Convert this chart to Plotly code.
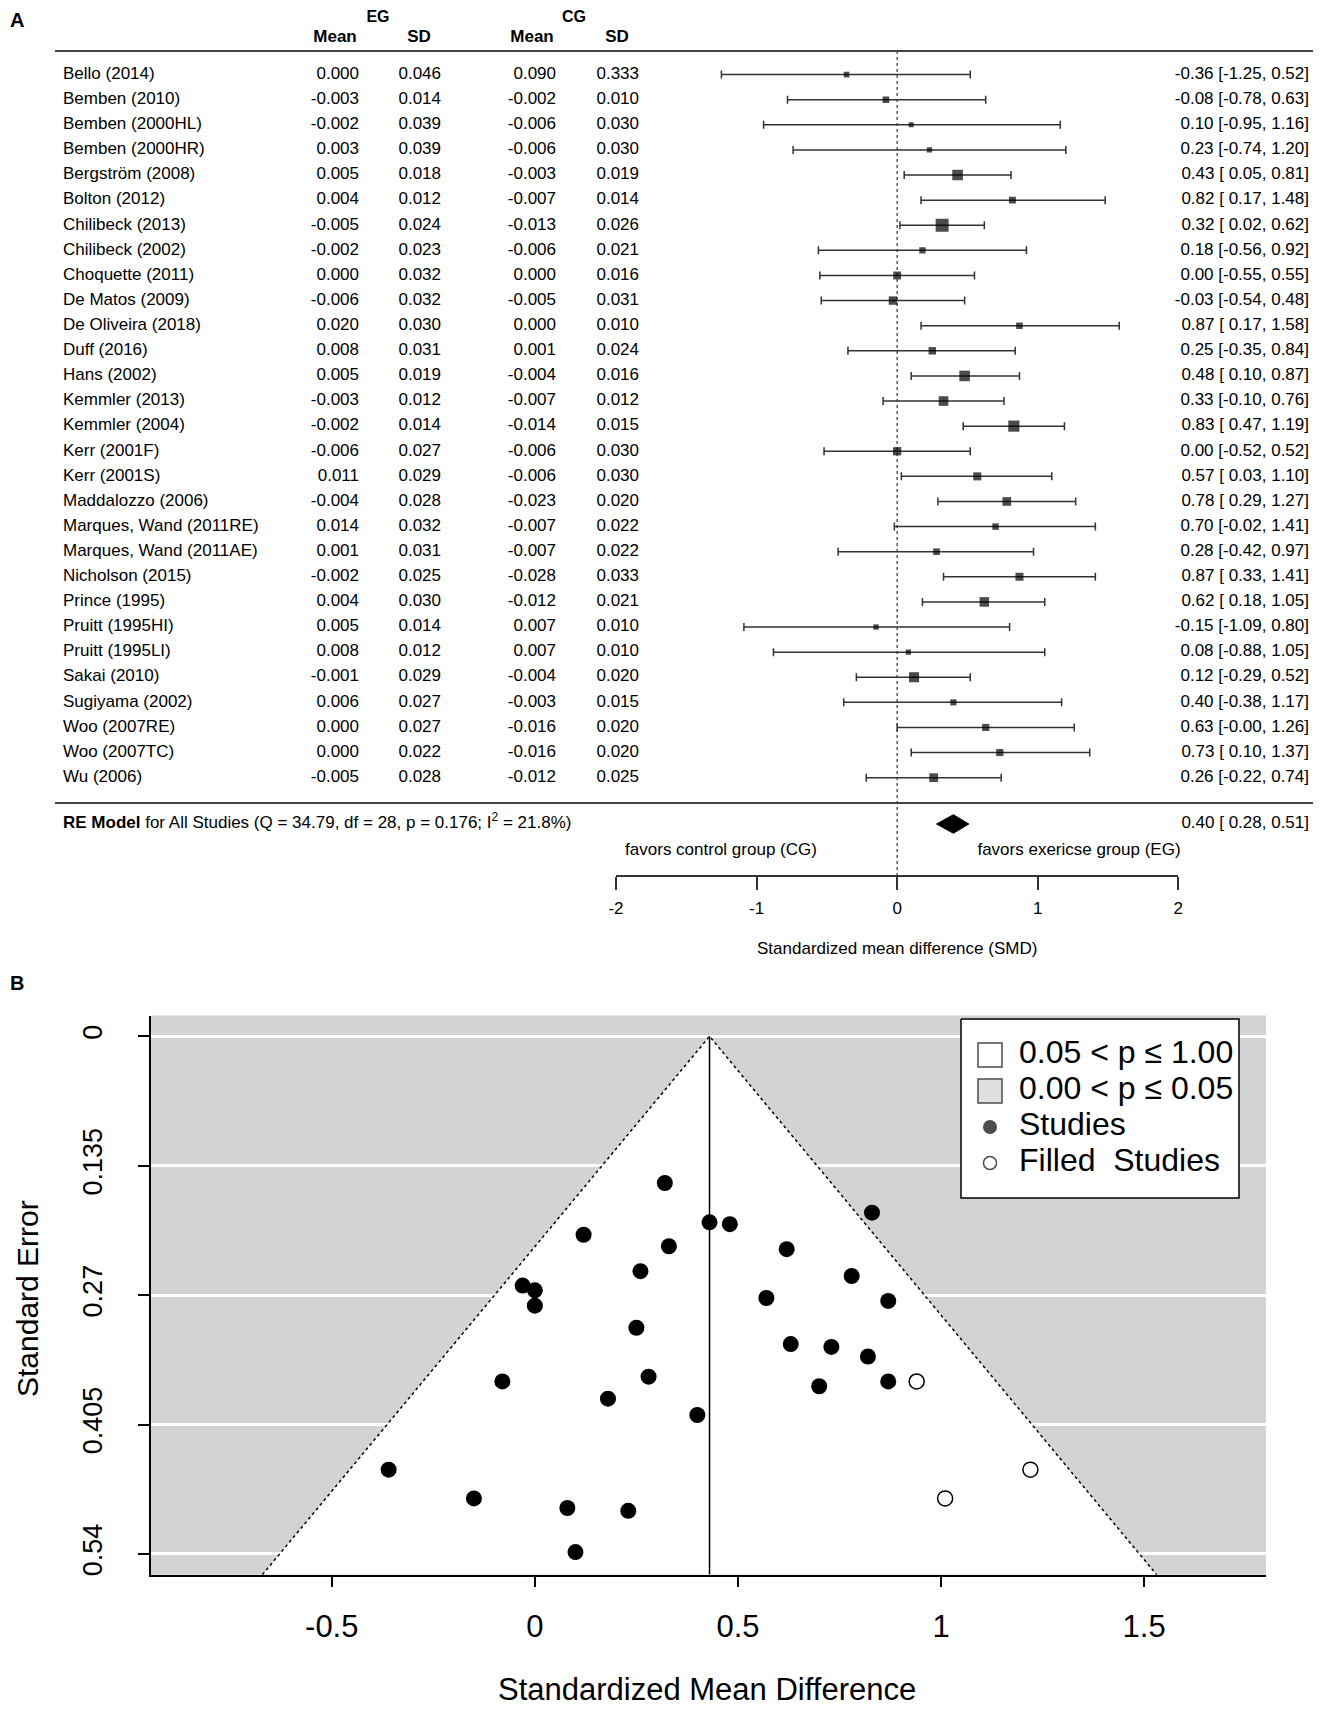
import plotly.graph_objects as go

# ---------------- data ----------------
studies = ["Bello (2014)", "Bemben (2010)", "Bemben (2000HL)", "Bemben (2000HR)", "Bergström (2008)",
           "Bolton (2012)", "Chilibeck (2013)", "Chilibeck (2002)", "Choquette (2011)", "De Matos (2009)",
           "De Oliveira (2018)", "Duff (2016)", "Hans (2002)", "Kemmler (2013)", "Kemmler (2004)",
           "Kerr (2001F)", "Kerr (2001S)", "Maddalozzo (2006)", "Marques, Wand (2011RE)",
           "Marques, Wand (2011AE)", "Nicholson (2015)", "Prince (1995)", "Pruitt (1995HI)",
           "Pruitt (1995LI)", "Sakai (2010)", "Sugiyama (2002)", "Woo (2007RE)", "Woo (2007TC)", "Wu (2006)"]
eg_mean = [0.000, -0.003, -0.002, 0.003, 0.005, 0.004, -0.005, -0.002, 0.000, -0.006, 0.020, 0.008, 0.005,
           -0.003, -0.002, -0.006, 0.011, -0.004, 0.014, 0.001, -0.002, 0.004, 0.005, 0.008, -0.001, 0.006,
           0.000, 0.000, -0.005]
eg_sd = [0.046, 0.014, 0.039, 0.039, 0.018, 0.012, 0.024, 0.023, 0.032, 0.032, 0.030, 0.031, 0.019, 0.012,
         0.014, 0.027, 0.029, 0.028, 0.032, 0.031, 0.025, 0.030, 0.014, 0.012, 0.029, 0.027, 0.027, 0.022, 0.028]
cg_mean = [0.090, -0.002, -0.006, -0.006, -0.003, -0.007, -0.013, -0.006, 0.000, -0.005, 0.000, 0.001, -0.004,
           -0.007, -0.014, -0.006, -0.006, -0.023, -0.007, -0.007, -0.028, -0.012, 0.007, 0.007, -0.004, -0.003,
           -0.016, -0.016, -0.012]
cg_sd = [0.333, 0.010, 0.030, 0.030, 0.019, 0.014, 0.026, 0.021, 0.016, 0.031, 0.010, 0.024, 0.016, 0.012,
         0.015, 0.030, 0.030, 0.020, 0.022, 0.022, 0.033, 0.021, 0.010, 0.010, 0.020, 0.015, 0.020, 0.020, 0.025]
smd = [-0.36, -0.08, 0.10, 0.23, 0.43, 0.82, 0.32, 0.18, 0.00, -0.03, 0.87, 0.25, 0.48, 0.33, 0.83, 0.00,
       0.57, 0.78, 0.70, 0.28, 0.87, 0.62, -0.15, 0.08, 0.12, 0.40, 0.63, 0.73, 0.26]
ci_lo = [-1.25, -0.78, -0.95, -0.74, 0.05, 0.17, 0.02, -0.56, -0.55, -0.54, 0.17, -0.35, 0.10, -0.10, 0.47,
         -0.52, 0.03, 0.29, -0.02, -0.42, 0.33, 0.18, -1.09, -0.88, -0.29, -0.38, -0.00, 0.10, -0.22]
ci_hi = [0.52, 0.63, 1.16, 1.20, 0.81, 1.48, 0.62, 0.92, 0.55, 0.48, 1.58, 0.84, 0.87, 0.76, 1.19, 0.52,
         1.10, 1.27, 1.41, 0.97, 1.41, 1.05, 0.80, 1.05, 0.52, 1.17, 1.26, 1.37, 0.74]
se = [0.452, 0.360, 0.538, 0.495, 0.194, 0.334, 0.153, 0.378, 0.281, 0.260, 0.360, 0.304, 0.196, 0.219,
      0.184, 0.265, 0.273, 0.250, 0.365, 0.355, 0.276, 0.222, 0.482, 0.492, 0.207, 0.395, 0.321, 0.324, 0.245]

re_est, re_lo, re_hi = 0.40, 0.28, 0.51
re_Q, re_df, re_p, re_I2 = 34.79, 28, 0.176, 21.8

filled_smd = [0.94, 1.22, 1.01]
filled_se = [0.360, 0.452, 0.482]
adj_est = 0.43

forest_ticks = [-2, -1, 0, 1, 2]
forest_tick_labels = ["-2", "-1", "0", "1", "2"]
funnel_xticks = [-0.5, 0, 0.5, 1, 1.5]
funnel_xtick_labels = ["-0.5", "0", "0.5", "1", "1.5"]
funnel_yticks = [0, 0.135, 0.27, 0.405, 0.54]
funnel_ytick_labels = ["0", "0.135", "0.27", "0.405", "0.54"]
legend_labels = ["0.05 &lt; p ≤ 1.00", "0.00 &lt; p ≤ 0.05", "Studies", "Filled\u00a0 Studies"]

# ---------------- layout constants (page pixels) ----------------
OFF = 8                      # page body margin
FW, FH = 1321 - OFF, 1709 - OFF
NARROW = "Liberation Sans, Arial, sans-serif"
SANS = "Liberation Sans, Arial, sans-serif"
FS = 17
ROW0, STEP = 74.6, 25.11
A_BOTTOM = 960


def px(p):
    return (p - OFF) / FW


def py(p):
    return 1 - (p - OFF) / FH


def k_of(p):
    return 1 + (p - ROW0) / STEP


n = len(studies)
rows = list(range(1, n + 1))
FX0, FX1 = 616.0, 1178.3
BX0, BX1, BY0, BY1 = 151.0, 1266.0, 1015.6, 1574.7
FUN_X = [-0.945, 1.80]
FUN_Y = [-0.0216, 0.5616]

fig = go.Figure()


def text_col(x, y, texts, pos, size=FS, family=NARROW, xa="x3", ya="y"):
    fig.add_trace(go.Scatter(x=[x] * len(texts) if not isinstance(x, list) else x,
                             y=y, mode="text", text=texts, textposition=pos,
                             textfont=dict(family=family, size=size, color="black"),
                             xaxis=xa, yaxis=ya, hoverinfo="skip", showlegend=False, cliponaxis=False))


# ---------- Panel A : table ----------
text_col(63, rows, studies, "middle right")
text_col(359, rows, [f"{v:.3f}" for v in eg_mean], "middle left")
text_col(441, rows, [f"{v:.3f}" for v in eg_sd], "middle left")
text_col(556, rows, [f"{v:.3f}" for v in cg_mean], "middle left")
text_col(639, rows, [f"{v:.3f}" for v in cg_sd], "middle left")
text_col(1309, rows, [f"{m:.2f} [{l:5.2f}, {h:.2f}]" for m, l, h in zip(smd, ci_lo, ci_hi)], "middle left")

# headers
text_col([378, 574], [k_of(18)] * 2, ["<b>EG</b>", "<b>CG</b>"], "middle center", size=16)
text_col([335, 419, 532, 617], [k_of(38)] * 4, ["<b>Mean</b>", "<b>SD</b>", "<b>Mean</b>", "<b>SD</b>"],
         "middle center")

# separators
for ly in (51, 803):
    fig.add_trace(go.Scatter(x=[55, OFF + FW], y=[k_of(ly)] * 2, mode="lines", line=dict(color="#444", width=2),
                             xaxis="x3", yaxis="y", hoverinfo="skip", showlegend=False))

# RE model row
text_col(63, [k_of(824)],
         [f"<b>RE Model</b> for All Studies (Q = {re_Q:.2f}, df = {re_df}, p = {re_p:.3f}; I<sup>2</sup> = {re_I2:.1f}%)"],
         "middle right")
text_col(1309, [k_of(824)], [f"{re_est:.2f} [{re_lo:5.2f}, {re_hi:.2f}]"], "middle left")
text_col([721, 1079], [k_of(851)] * 2, ["favors control group (CG)", "favors exericse group (EG)"], "middle center")

# ---------- Panel A : forest ----------
fig.add_trace(go.Scatter(x=[0, 0], y=[k_of(51), k_of(876)], mode="lines",
                         line=dict(color="#333", width=1.2, dash="dot"),
                         xaxis="x", yaxis="y", hoverinfo="skip", showlegend=False))
wts = [1 / s for s in se]
wmin, wmax = min(wts), max(wts)
sizes = [5 + 8 * (w - wmin) / (wmax - wmin) for w in wts]
fig.add_trace(go.Scatter(
    x=smd, y=rows, mode="markers",
    marker=dict(symbol="square", size=sizes, color="black", line=dict(width=0)),
    error_x=dict(type="data", symmetric=False,
                 array=[h - m for h, m in zip(ci_hi, smd)],
                 arrayminus=[m - l for m, l in zip(smd, ci_lo)],
                 color="#333", thickness=1.5, width=4),
    xaxis="x", yaxis="y", hoverinfo="skip", showlegend=False))
kre = k_of(824)
dh = 9.3 / STEP
fig.add_trace(go.Scatter(x=[re_lo, re_est, re_hi, re_est, re_lo], y=[kre, kre - dh, kre, kre + dh, kre],
                         mode="lines", fill="toself", fillcolor="black", line=dict(color="black", width=1),
                         xaxis="x", yaxis="y", hoverinfo="skip", showlegend=False))

# ---------- Panel B : funnel ----------
ymax = FUN_Y[1]
tri_x = [adj_est - 1.96 * ymax, adj_est, adj_est + 1.96 * ymax]
tri_y = [ymax, 0, ymax]
fig.add_trace(go.Scatter(x=tri_x + [tri_x[0]], y=tri_y + [tri_y[0]], mode="lines", fill="toself",
                         fillcolor="white", line=dict(width=0, color="white"),
                         xaxis="x2", yaxis="y2", hoverinfo="skip", showlegend=False))
fig.add_trace(go.Scatter(x=tri_x, y=tri_y, mode="lines", line=dict(color="black", width=1.5, dash="dot"),
                         xaxis="x2", yaxis="y2", hoverinfo="skip", showlegend=False))
fig.add_trace(go.Scatter(x=[adj_est, adj_est], y=[0, ymax], mode="lines", line=dict(color="black", width=1.5),
                         xaxis="x2", yaxis="y2", hoverinfo="skip", showlegend=False))
fig.add_trace(go.Scatter(x=smd, y=se, mode="markers", marker=dict(symbol="circle", size=16, color="black"),
                         xaxis="x2", yaxis="y2", name="Studies", showlegend=False))
fig.add_trace(go.Scatter(x=filled_smd, y=filled_se, mode="markers",
                         marker=dict(symbol="circle", size=15, color="white", line=dict(color="black", width=1.5)),
                         xaxis="x2", yaxis="y2", name="Filled Studies", showlegend=False))

# legend (own small subplot, page-pixel units)
LX0, LX1, LY0, LY1 = 961, 1239, 1019, 1198
fig.add_trace(go.Scatter(x=[LX0, LX1, LX1, LX0, LX0], y=[LY0, LY0, LY1, LY1, LY0], mode="lines",
                         fill="toself", fillcolor="white", line=dict(color="black", width=1.5),
                         xaxis="x4", yaxis="y4", hoverinfo="skip", showlegend=False))
leg_y = [1055, 1091, 1127, 1163]
fig.add_trace(go.Scatter(x=[990] * 4, y=leg_y, mode="markers",
                         marker=dict(symbol=["square", "square", "circle", "circle"], size=[24, 24, 14, 13],
                                     color=["white", "#d3d3d3", "black", "white"],
                                     line=dict(color="black", width=[1.5, 1.5, 0, 1.5])),
                         xaxis="x4", yaxis="y4", hoverinfo="skip", showlegend=False, cliponaxis=False))
text_col(1019, leg_y, legend_labels, "middle right", size=32, family=SANS, xa="x4", ya="y4")


def ann(text, x, y, size, family=SANS, angle=0):
    return dict(text=text, x=px(x), y=py(y), xref="paper", yref="paper", showarrow=False,
                xanchor="center", yanchor="middle", textangle=angle,
                font=dict(family=family, size=size, color="black"))


# ---------------- layout ----------------
fig.update_layout(
    template="none",
    width=FW, height=FH, margin=dict(l=0, r=0, t=0, b=0, pad=0), autosize=False,
    paper_bgcolor="white", plot_bgcolor="rgba(0,0,0,0)", showlegend=False,
    xaxis=dict(domain=[px(FX0), px(FX1)], range=[-2, 2], anchor="free", position=py(876),
               showline=True, linecolor="#333", linewidth=1.5, ticks="outside", ticklen=13, tickwidth=1.5,
               tickcolor="#333", tickvals=forest_ticks, ticktext=forest_tick_labels,
               tickfont=dict(family=NARROW, size=FS, color="black"),
               showgrid=False, zeroline=False, ticklabelstandoff=4, automargin=False),
    yaxis=dict(domain=[py(A_BOTTOM), 1], range=[k_of(A_BOTTOM), k_of(OFF)], visible=False, automargin=False),
    xaxis3=dict(domain=[0, 1], range=[OFF, OFF + FW], visible=False, anchor="y", automargin=False),
    xaxis2=dict(domain=[px(BX0), px(BX1)], range=FUN_X, anchor="y2", showline=True, linecolor="black",
                linewidth=1.5, ticks="outside", ticklen=11, tickwidth=1.5, tickcolor="black",
                tickvals=funnel_xticks, ticktext=funnel_xtick_labels,
                tickfont=dict(family=SANS, size=31, color="black"), showgrid=False, zeroline=False,
                ticklabelstandoff=12, automargin=False),
    yaxis2=dict(domain=[py(BY1), py(BY0)], range=[FUN_Y[1], FUN_Y[0]], anchor="x2", showline=True,
                linecolor="black", linewidth=1.5, ticks="outside", ticklen=11, tickwidth=1.5, tickcolor="black",
                tickvals=funnel_yticks, ticktext=funnel_ytick_labels, tickangle=-90,
                tickfont=dict(family=SANS, size=27, color="black"), showgrid=True, gridcolor="white",
                gridwidth=2.5, zeroline=False, ticklabelstandoff=25, automargin=False),
    xaxis4=dict(domain=[px(950), px(1250)], range=[950, 1250], visible=False, anchor="y4", automargin=False),
    yaxis4=dict(domain=[py(1210), py(1008)], range=[1210, 1008], visible=False, anchor="x4",
                automargin=False),
    shapes=[dict(type="rect", xref="x2 domain", yref="y2 domain", x0=0, x1=1, y0=0, y1=1,
                 fillcolor="#d3d3d3", line=dict(width=0), layer="below")],
    annotations=[
        ann("<b>A</b>", 17, 20, 20),
        ann("<b>B</b>", 17, 983, 20),
        ann("Standardized mean difference (SMD)", 897, 948, FS, NARROW),
        ann("Standardized Mean Difference", 707, 1689, 31),
        ann("Standard Error", 27, 1299, 30, angle=-90),
    ],
)

fig.write_html("out.html")
